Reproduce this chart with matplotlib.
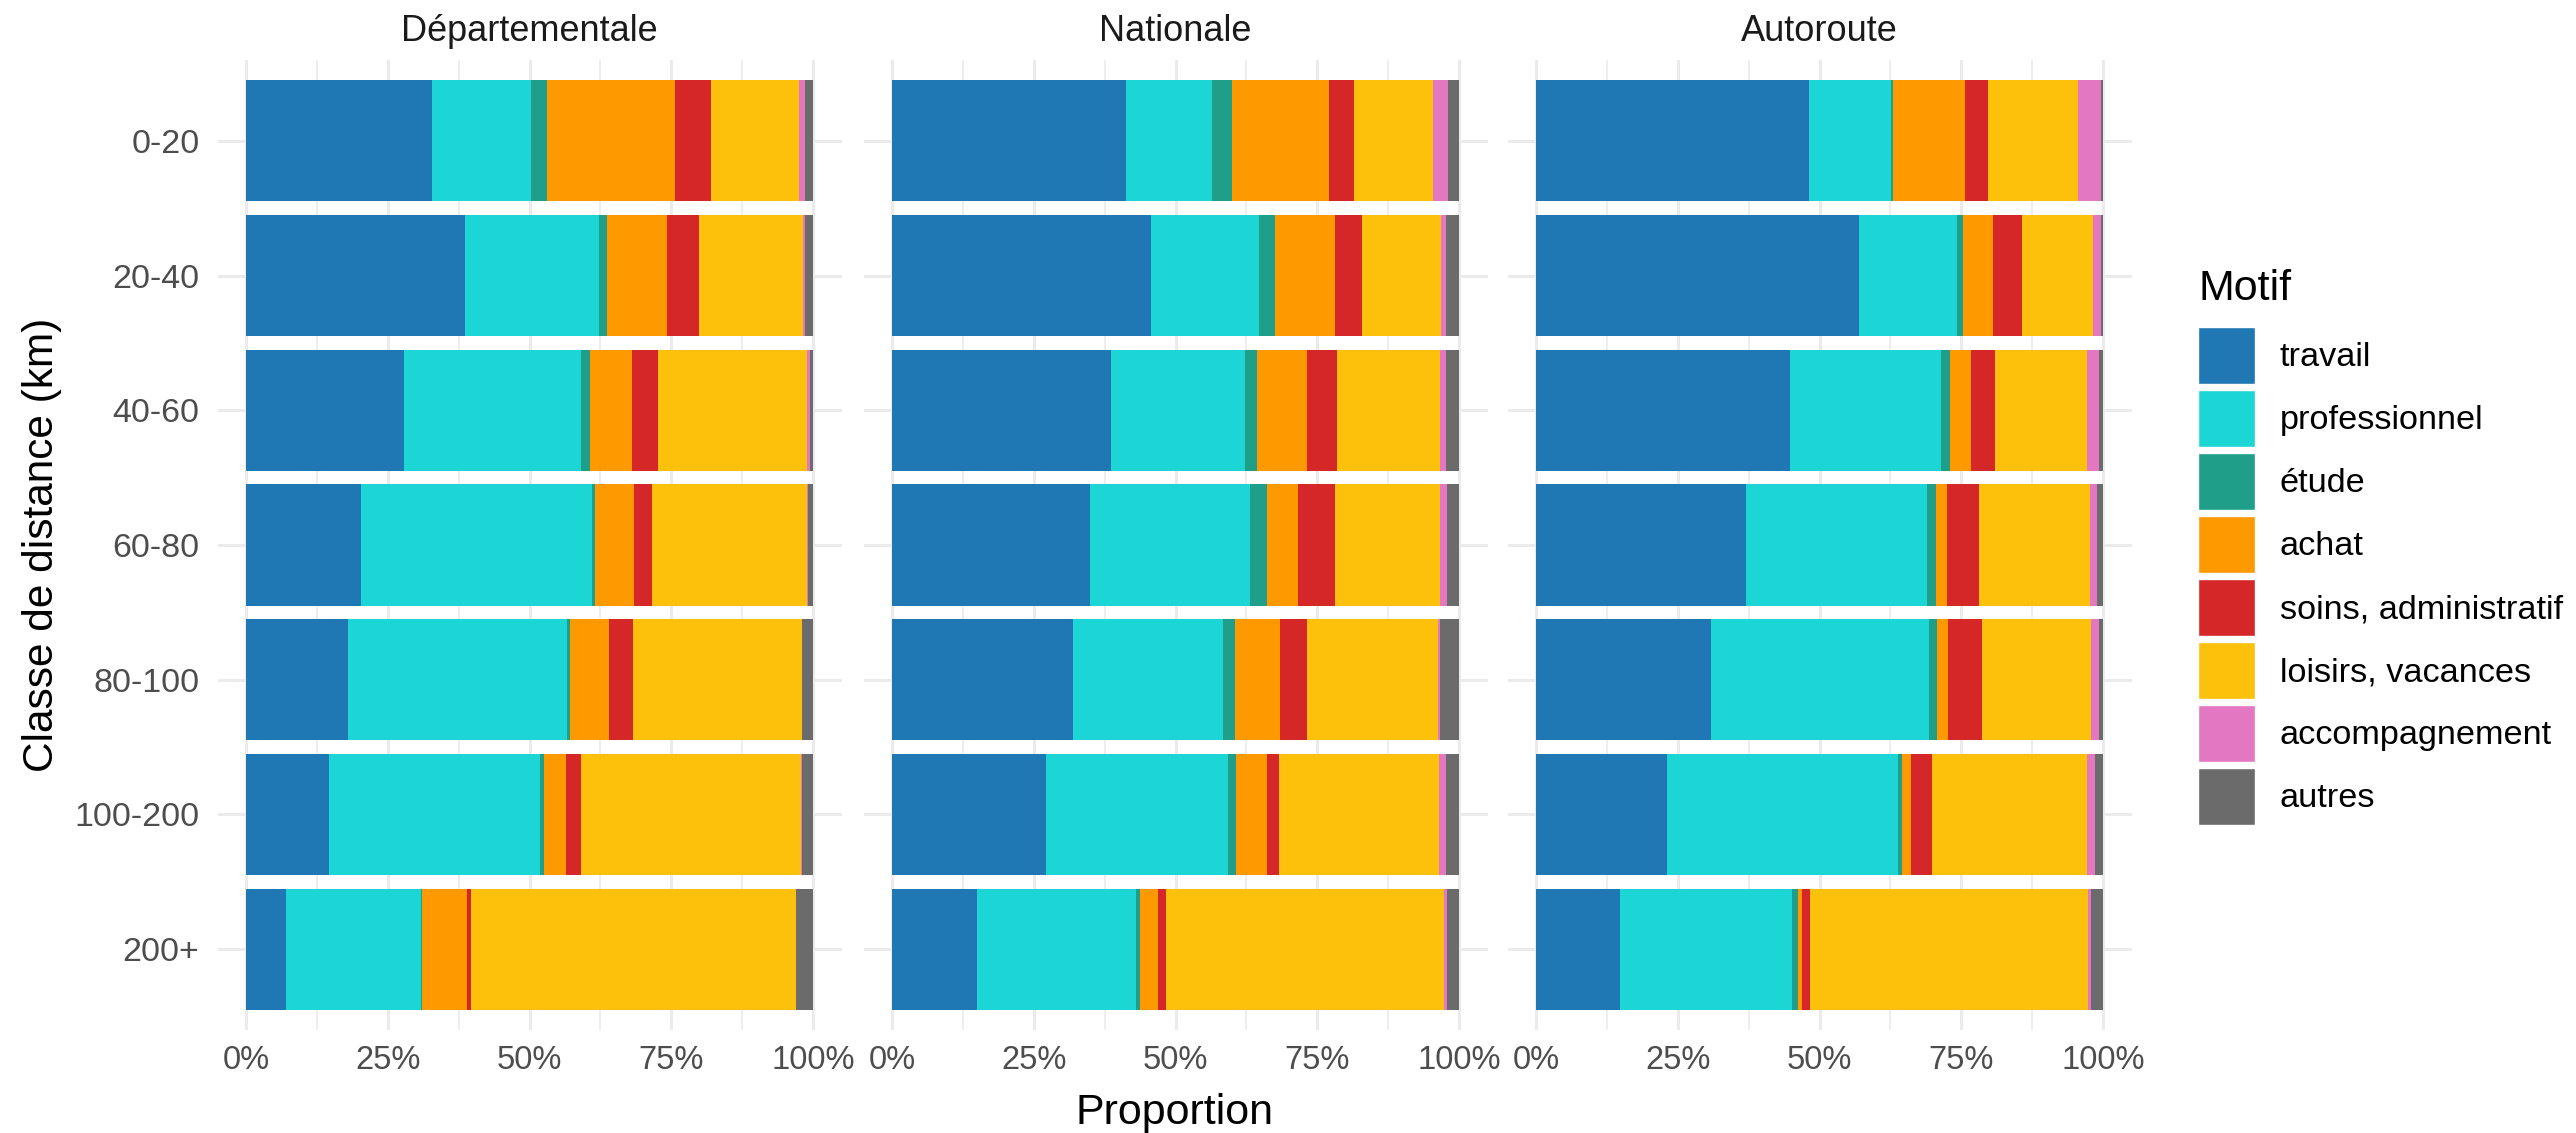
import matplotlib.pyplot as plt
from matplotlib.patches import Patch
from matplotlib.ticker import MultipleLocator, PercentFormatter
import numpy as np

plt.rcParams['font.family'] = ['Liberation Sans', 'DejaVu Sans']

classes = ['0-20', '20-40', '40-60', '60-80', '80-100', '100-200', '200+']
reseaux = ['Départementale', 'Nationale', 'Autoroute']
motifs = ['travail', 'professionnel', 'étude', 'achat', 'soins, administratif',
          'loisirs, vacances', 'accompagnement', 'autres']
couleurs = ['#1f77b4', '#1cd6d6', '#1f9e89', '#ff9900', '#d62728',
            '#fdc00b', '#e377c2', '#6b6b6b']

# parts en % par classe de distance, ordre des motifs ci-dessus
departementale = [
    [32.8, 17.4, 2.9, 22.5, 6.4, 15.5, 1.0, 1.5],
    [38.6, 23.6, 1.5, 10.5, 5.7, 18.3, 0.4, 1.4],
    [27.9, 31.2, 1.6, 7.3, 4.6, 26.4, 0.4, 0.6],
    [20.3, 40.8, 0.5, 6.8, 3.2, 27.4, 0.1, 0.9],
    [18.0, 38.6, 0.5, 7.0, 4.2, 29.7, 0.1, 1.9],
    [14.7, 37.2, 0.7, 3.8, 2.6, 38.9, 0.1, 2.0],
    [7.0, 23.9, 0.1, 8.0, 0.6, 57.4, 0.0, 3.0],
]
nationale = [
    [41.2, 15.2, 3.5, 17.2, 4.3, 14.0, 2.7, 1.9],
    [45.7, 19.1, 2.7, 10.6, 4.7, 14.0, 0.9, 2.3],
    [38.6, 23.6, 2.1, 8.8, 5.3, 18.3, 1.0, 2.3],
    [34.9, 28.2, 3.0, 5.5, 6.5, 18.6, 1.2, 2.1],
    [32.0, 26.3, 2.2, 7.9, 4.7, 23.1, 0.5, 3.3],
    [27.2, 32.1, 1.3, 5.5, 2.2, 28.1, 1.2, 2.4],
    [15.0, 28.0, 0.7, 3.2, 1.4, 49.1, 0.5, 2.1],
]
autoroute = [
    [48.2, 14.4, 0.3, 12.7, 4.1, 15.8, 4.1, 0.4],
    [57.0, 17.2, 1.1, 5.2, 5.2, 12.5, 1.4, 0.4],
    [44.8, 26.6, 1.6, 3.7, 4.2, 16.3, 2.0, 0.8],
    [37.0, 32.0, 1.5, 1.9, 5.8, 19.5, 1.2, 1.1],
    [30.9, 38.4, 1.4, 2.0, 5.9, 19.2, 1.4, 0.8],
    [23.1, 40.7, 0.8, 1.5, 3.7, 27.4, 1.4, 1.4],
    [14.8, 30.4, 1.0, 0.8, 1.3, 49.1, 0.5, 2.2],
]
donnees = [departementale, nationale, autoroute]

fig = plt.figure(figsize=(25.76, 11.33), dpi=100)

lefts = [217.5 / 2576, 863.5 / 2576, 1507.5 / 2576]
width = 624 / 2576
bottom = 1 - 1030 / 1133
height = 970 / 1133

gris = '#EBEBEB'
for i, (nom, tab) in enumerate(zip(reseaux, donnees)):
    ax = fig.add_axes([lefts[i], bottom, width, height])
    vals = np.array(tab) / 100
    vals = vals / vals.sum(axis=1, keepdims=True)
    y = np.arange(len(classes))
    gauche = np.zeros(len(classes))
    for j, m in enumerate(motifs):
        ax.barh(y, vals[:, j], left=gauche, height=0.9, color=couleurs[j],
                linewidth=0, zorder=2)
        gauche += vals[:, j]

    ax.set_xlim(-0.05, 1.05)
    ax.set_ylim(len(classes) - 0.4, -0.6)
    ax.xaxis.set_major_locator(MultipleLocator(0.25))
    ax.xaxis.set_minor_locator(MultipleLocator(0.125))
    ax.xaxis.set_major_formatter(PercentFormatter(1.0, decimals=0))
    ax.set_yticks(y)
    ax.set_yticklabels(classes if i == 0 else [])
    ax.grid(which='major', color=gris, linewidth=2.2, zorder=0)
    ax.grid(which='minor', axis='x', color=gris, linewidth=1.2, zorder=0)
    ax.set_axisbelow(True)
    for s in ax.spines.values():
        s.set_visible(False)
    ax.tick_params(which='both', length=0)
    ax.tick_params(axis='x', labelsize=23.5, labelcolor='#4D4D4D', pad=11)
    ax.tick_params(axis='y', labelsize=24.5, labelcolor='#4D4D4D', pad=13)
    fig.text(lefts[i] + width / 2, 1 - 41 / 1133, nom, ha='center', va='baseline',
             fontsize=26, color='#1A1A1A')

fig.text((217.5 + 2131.5) / 2 / 2576, 1 - 1124 / 1133, 'Proportion',
         ha='center', va='baseline', fontsize=31)
fig.text(42 / 2576, 1 - 545 / 1133, 'Classe de distance (km)', rotation=90,
         ha='center', va='center', fontsize=30.5)

handles = [Patch(facecolor=c, edgecolor='white', linewidth=1) for c in couleurs]
leg = fig.legend(handles, motifs, title='Motif', loc='center left',
                 bbox_to_anchor=(2198 / 2576, 1 - 547 / 1133), frameon=False,
                 fontsize=24.7, title_fontsize=31, handlelength=1.66,
                 handleheight=2.18, labelspacing=0.175, handletextpad=0.73,
                 borderaxespad=0, borderpad=0)
leg._legend_box.align = 'left'
leg._legend_box.sep = 13

fig.savefig('out.png', dpi=100)
